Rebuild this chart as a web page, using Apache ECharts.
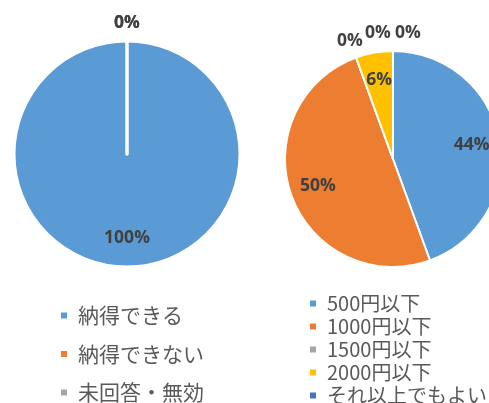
<!DOCTYPE html>
<html>
<head>
<meta charset="utf-8">
<script src="https://cdn.jsdelivr.net/npm/echarts@6/dist/echarts.min.js"></script>
<style>
html, body { margin: 0; padding: 0; background: #fff; }
#chart { width: 489px; height: 403px; }
</style>
</head>
<body>
<div id="chart"></div>
<script>
// 左：納得度
var leftNames = ['納得できる', '納得できない', '未回答・無効'];
var leftValues = [18, 0, 0];
// 右：許容金額
var rightNames = ['500円以下', '1000円以下', '1500円以下', '2000円以下', 'それ以上でもよい', '未回答・無効'];
var rightValues = [8, 9, 0, 1, 0, 0];

var leftColors = ['#5B9BD5', '#ED7D31', '#A5A5A5'];
var rightColors = ['#5B9BD5', '#ED7D31', '#A5A5A5', '#FFC000', '#4472C4', '#70AD47'];

var leftPie = { center: [127, 154], r: 113, spread: 0 };
var rightPie = { center: [393, 159], r: 108, spread: 30 };

// Excel風のラベル位置：値ありは半径0.74、0%は円の外側
function labelSpots(pie, values) {
    var total = values.reduce(function (a, b) { return a + b; }, 0);
    var acc = 0, spots = [], groups = {};
    values.forEach(function (v, i) {
        var mid = (acc + v / 2) / total * Math.PI * 2;
        acc += v;
        var dist = v > 0 ? pie.r * 0.74 : pie.r + 18;
        spots[i] = [pie.center[0] + Math.sin(mid) * dist, pie.center[1] - Math.cos(mid) * dist];
        if (v === 0) {
            var key = mid.toFixed(3);
            (groups[key] = groups[key] || []).push(i);
        }
    });
    // 同じ角度の0%ラベルは横に並べる
    Object.keys(groups).forEach(function (k) {
        var g = groups[k];
        g.forEach(function (idx, n) {
            spots[idx][0] += (n - (g.length - 1) / 2) * pie.spread;
        });
    });
    return spots;
}

function makeData(names, values, colors) {
    return names.map(function (n, i) {
        return { name: n, value: values[i], itemStyle: { color: colors[i] } };
    });
}

function makeSeries(pie, names, values, colors, border) {
    var spots = labelSpots(pie, values);
    return {
        type: 'pie',
        center: pie.center,
        radius: [0, pie.r],
        startAngle: 90,
        clockwise: true,
        percentPrecision: 0,
        avoidLabelOverlap: false,
        data: makeData(names, values, colors),
        itemStyle: { borderColor: '#fff', borderWidth: border },
        label: {
            show: true,
            position: 'inside',
            formatter: '{d}%',
            fontFamily: 'Open Sans',
            fontWeight: 'bold',
            fontSize: 17.5,
            color: '#404040'
        },
        labelLine: { show: false },
        labelLayout: function (params) {
            var s = spots[params.dataIndex];
            return { x: s[0], y: s[1], align: 'center', verticalAlign: 'middle' };
        },
        emphasis: { disabled: true }
    };
}

function legendText(size) {
    return {
        fontFamily: 'Noto Sans CJK JP',
        fontSize: size,
        color: '#595959',
        lineHeight: 23,
        padding: [0, 0, 0, 5]
    };
}

var chart = echarts.init(document.getElementById('chart'));
var option = {
    animation: false,
    backgroundColor: '#fff',
    legend: [
        {
            orient: 'vertical',
            left: 59,
            top: 304,
            height: 300,
            padding: 0,
            data: leftNames,
            icon: 'rect',
            itemWidth: 8,
            itemHeight: 8,
            itemGap: 15.5,
            textStyle: legendText(21)
        },
        {
            orient: 'vertical',
            left: 308,
            top: 292,
            height: 300,
            padding: 0,
            data: rightNames,
            icon: 'rect',
            itemWidth: 8,
            itemHeight: 8,
            itemGap: 0,
            textStyle: legendText(20)
        }
    ],
    series: [
        makeSeries(leftPie, leftNames, leftValues, leftColors, 3),
        makeSeries(rightPie, rightNames, rightValues, rightColors, 2)
    ]
};
chart.setOption(option);
</script>
</body>
</html>
